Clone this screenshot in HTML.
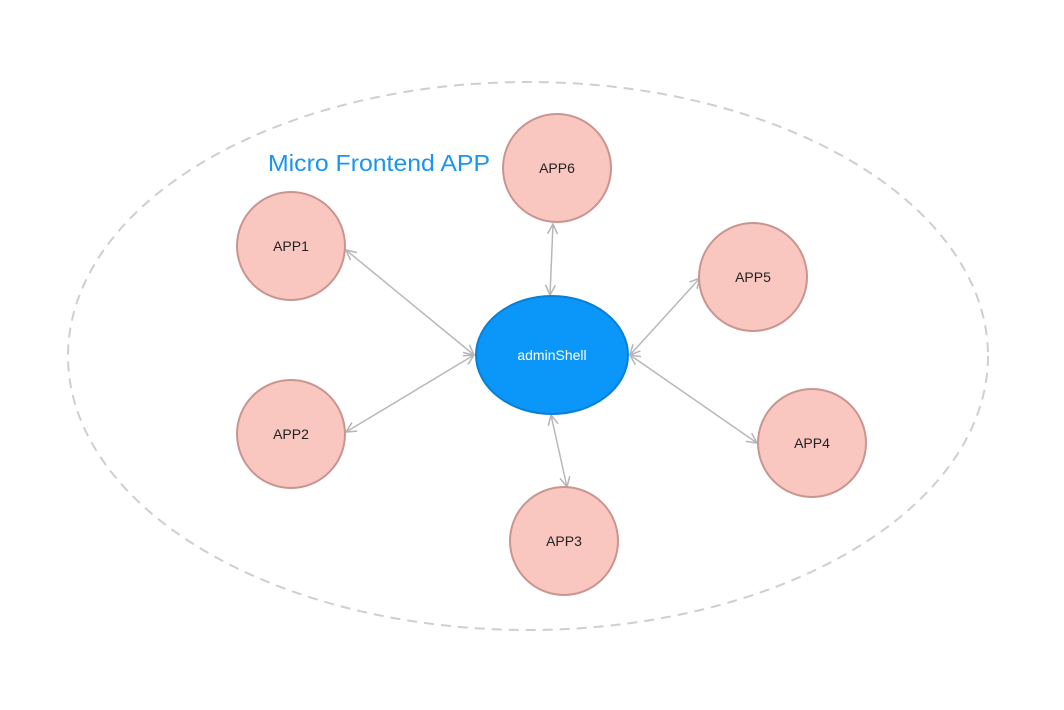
<!DOCTYPE html>
<html><head><style>html,body{margin:0;padding:0;background:#fff;}svg{display:block}</style></head>
<body>
<svg width="1064" height="710" viewBox="0 0 1064 710" xmlns="http://www.w3.org/2000/svg">
<defs>
<marker id="a" viewBox="0 0 12 12" refX="11" refY="6" markerWidth="12" markerHeight="12" markerUnits="userSpaceOnUse" orient="auto-start-reverse">
<path d="M1,1 L11,6 L1,11" fill="none" stroke="#b5b5b5" stroke-width="1.5"/>
</marker>
</defs>
<ellipse cx="528" cy="356" rx="460" ry="274" fill="none" stroke="#cfcfcf" stroke-width="2" stroke-dasharray="10,7"/>
<text x="268" y="171" font-family="Liberation Sans, sans-serif" font-size="23" fill="#1a95ef" textLength="222" lengthAdjust="spacingAndGlyphs">Micro Frontend APP</text>
<g stroke="#b8b8b8" stroke-width="1.5" fill="none" marker-start="url(#a)" marker-end="url(#a)">
<line x1="346" y1="250" x2="474" y2="355"/>
<line x1="346" y1="432" x2="474" y2="355"/>
<line x1="553" y1="224" x2="550" y2="295"/>
<line x1="700" y1="278" x2="630" y2="355"/>
<line x1="757" y1="443" x2="630" y2="355"/>
<line x1="551" y1="415" x2="567" y2="487"/>
</g>
<g fill="#f9c6c0" stroke="#c99590" stroke-width="2">
<circle cx="291" cy="246" r="54"/>
<circle cx="291" cy="434" r="54"/>
<circle cx="557" cy="168" r="54"/>
<circle cx="753" cy="277" r="54"/>
<circle cx="812" cy="443" r="54"/>
<circle cx="564" cy="541" r="54"/>
</g>
<ellipse cx="552" cy="355" rx="76" ry="59" fill="#0b96f9" stroke="#0a7fd6" stroke-width="2"/>
<g font-family="Liberation Sans, sans-serif" font-size="14" fill="#222" text-anchor="middle">
<text x="291" y="251">APP1</text>
<text x="291" y="439">APP2</text>
<text x="557" y="173">APP6</text>
<text x="753" y="282">APP5</text>
<text x="812" y="448">APP4</text>
<text x="564" y="546">APP3</text>
<text x="552" y="360" fill="#fff">adminShell</text>
</g>
</svg>
</body></html>
